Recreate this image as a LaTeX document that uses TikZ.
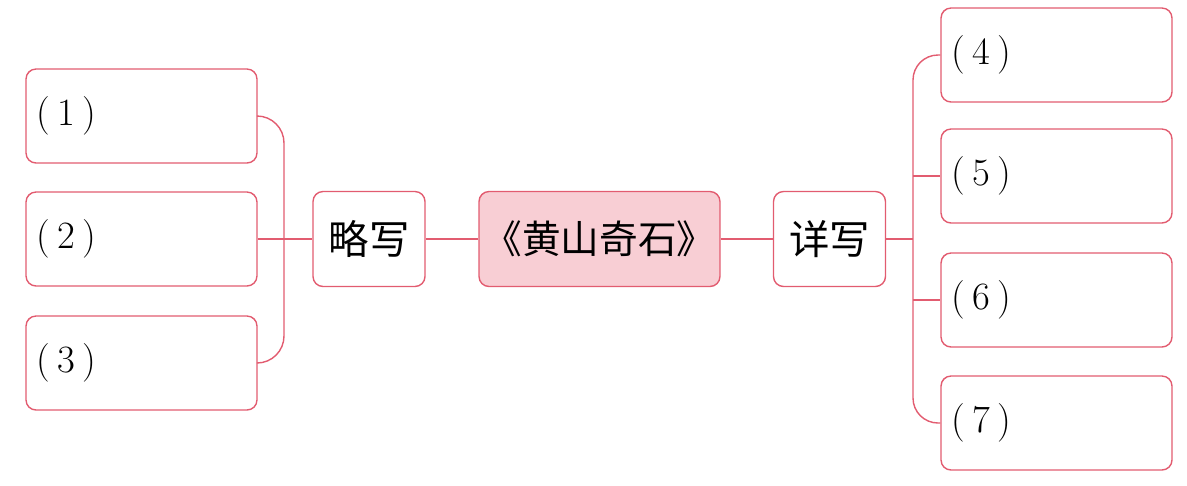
\documentclass[tikz,border=0pt]{standalone}
\usepackage{fontspec}
\usepackage{tikz}
\usetikzlibrary{positioning, calc}
\newfontfamily\cjk{Noto Sans CJK SC}
\definecolor{mainred}{RGB}{226, 92, 112}
\definecolor{lightred}{RGB}{248, 206, 212}

\begin{document}
\begin{tikzpicture}[x=0.02cm, y=-0.02cm, line width=0.8pt,
  every node/.style={draw=mainred, rounded corners=0.2cm, font=\fontsize{22}{26}\selectfont},
  blank/.style={minimum height=1.88cm, text width=4.22cm, inner xsep=0.2cm, align=left},
  mid/.style={minimum height=1.9cm, minimum width=2.24cm, font=\cjk\fontsize{23}{26}\selectfont}]
\useasboundingbox (0,0) rectangle (1187,485);
% left side
\node[blank] (b1) at (141.5,116) {(\hspace{0.2em}1\hspace{0.2em})};
\node[blank] (b2) at (141.5,239) {(\hspace{0.2em}2\hspace{0.2em})};
\node[blank] (b3) at (141.5,363) {(\hspace{0.2em}3\hspace{0.2em})};
\node[mid] (lue) at (369,239) {略写};
\node[mid, fill=lightred, minimum width=4.82cm, inner xsep=2pt, font=\cjk\fontsize{22}{26}\selectfont] (title) at (599.5,239) {《黄山奇石》};
\node[mid] (xiang) at (829.5,239) {详写};
% right side
\node[blank] (b4) at (1056.5,55) {(\hspace{0.2em}4\hspace{0.2em})};
\node[blank] (b5) at (1056.5,176) {(\hspace{0.2em}5\hspace{0.2em})};
\node[blank] (b6) at (1056.5,300) {(\hspace{0.2em}6\hspace{0.2em})};
\node[blank] (b7) at (1056.5,423) {(\hspace{0.2em}7\hspace{0.2em})};
\coordinate (lj) at (284,239);
\coordinate (rj) at (913,239);
\coordinate (r5) at (913,176);
\coordinate (r6) at (913,300);
\draw[mainred, rounded corners=0.54cm] (b1.east) -| (lj) |- (b3.east);
\draw[mainred] (b2.east) -- (lue);
\draw[mainred] (lue) -- (title);
\draw[mainred] (title) -- (xiang);
\draw[mainred] (xiang) -- (rj);
\draw[mainred, rounded corners=0.5cm] (b4.west) -| (rj) |- (b7.west);
\draw[mainred] (r5) -- (b5.west);
\draw[mainred] (r6) -- (b6.west);
\end{tikzpicture}
\end{document}
